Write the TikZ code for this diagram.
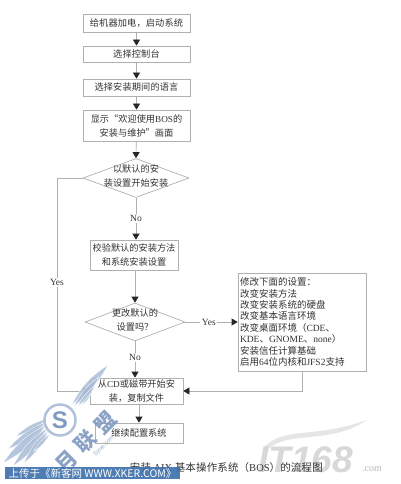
\documentclass[tikz,border=0pt]{standalone}
\usepackage{fontspec}
\setmainfont{Liberation Serif}
\newfontfamily\cjk[LetterSpace=1.5]{Noto Sans CJK SC}
\newfontfamily\cjkplain{Noto Sans CJK SC}
\newfontfamily\itf{Liberation Sans}
\usetikzlibrary{shapes.geometric,arrows.meta}
\definecolor{ink}{HTML}{333333}
\definecolor{edge}{HTML}{B0B0B0}
\definecolor{wing}{HTML}{A9BCD6}
\definecolor{wingtxt}{HTML}{7F9AC0}
\definecolor{banner}{HTML}{3F72AD}
\newcommand{\dtext}[1]{\raisebox{-2.5pt}{\makebox[0pt]{\smash{\begin{tabular}{@{}c@{}}#1\end{tabular}}}}}
\newcommand{\la}[1]{{\rmfamily #1}}
\newcommand{\petal}[2]{\filldraw[feather] #1 to[bend left=14] #2 to[bend left=14] #1 -- cycle;}
\tikzset{
 every node/.style={font=\cjkplain\fontsize{9.2}{14}\selectfont,text=ink},
 boxn/.style={draw=edge,line width=.7pt,fill=white,inner sep=0pt,align=center},
 dia/.style={draw=edge,line width=.7pt,fill=white,diamond,inner sep=0pt,aspect=2.7},
 flow/.style={draw=edge,line width=.7pt},
 arr/.style={flow,-{Triangle[length=6pt,width=7pt,color=black!85,fill=black!85]}},
 lab/.style={fill=white,inner sep=1.5pt,font=\rmfamily\fontsize{9.5}{11}\selectfont},
 feather/.style={fill=wing,draw=white,line width=.4pt,opacity=.85},
}
\begin{document}
\begin{tikzpicture}[x=1pt,y=-1pt]
\useasboundingbox (0,0) rectangle (400,484);
\fill[white] (0,0) rectangle (400,484);
% nodes
\node[boxn,minimum width=107pt,minimum height=18pt] (b1) at (136.5,23) {\cjk 给机器加电，启动系统};
\node[boxn,minimum width=107pt,minimum height=16pt] (b2) at (136.5,54) {\cjk 选择控制台};
\node[boxn,minimum width=107pt,minimum height=17pt] (b3) at (136.5,87.5) {\cjk 选择安装期间的语言};
\node[boxn,minimum width=107pt,minimum height=31pt] (b4) at (136.5,125.5) {显示“欢迎使用\la{BOS}的\\安装与维护”画面};
\node[dia,minimum width=106pt,minimum height=39pt] (d1) at (136,178) {\dtext{以默认的安\\装设置开始安装}};
\node[boxn,minimum width=88pt,minimum height=30pt] (b5) at (134,255) {校验默认的安装方法\\和系统安装设置};
\node[dia,minimum width=100pt,minimum height=38pt] (d2) at (135,322) {\dtext{更改默认的\\设置吗？}};
\node[boxn,minimum width=93pt,minimum height=26pt] (b6) at (136.5,391) {从\la{CD}或磁带开始安\\装，复制文件};
\node[boxn,minimum width=88pt,minimum height=20pt] (b7) at (139,433) {继续配置系统};
\node[boxn,minimum width=128pt,minimum height=98pt,align=left] (rb) at (302,322) {\parbox{124pt}{\fontsize{9.5}{11.4}\selectfont 修改下面的设置：\\改变安装方法\\改变安装系统的硬盘\\改变基本语言环境\\改变桌面环境（\la{CDE}、\\\la{KDE}、\la{GNOME}、\la{none}）\\安装信任计算基础\\启用\la{64}位内核和\la{JFS2}支持}};
\coordinate (lc) at (57,391);
\coordinate (rc) at (302,391);
% connectors
\draw[arr] (b1) -- (b2);
\draw[arr] (b2) -- (b3);
\draw[arr] (b3) -- (b4);
\draw[arr] (b4) -- (d1.north);
\draw[arr] (d1.south) -- node[lab,pos=.5] (no1) {No} (d1.south |- b5.north);
\draw[arr] (b5.south -| d2.north) -- (d2.north);
\draw[arr] (d2.east) -- node[lab,pos=.45] (yes2) {Yes} (d2.east -| rb.west);
\draw[arr] (d2.south) -- node[lab,pos=.45] (no2) {No} (d2.south |- b6.north);
\draw[arr] (d1.west) -| node[lab,pos=.746] (yes1) {Yes} (lc) -- (b6.west);
\draw[arr] (rb.south) -- (rc) -- (b6.east);
\draw[arr] (b6.south -| b7.north) -- (b7.north);
% IT168 watermark
\fill[black!10] (262,449) .. controls (285,425) and (310,440) .. (367,420) .. controls (330,445) and (290,430) .. (268,449) -- cycle;
\node[text=black!17,font=\itf\bfseries\itshape\fontsize{37}{37}\selectfont,anchor=west,inner sep=0pt,opacity=.9] (it) at (258,460) {IT168};
\node[text=black!28,font=\rmfamily\fontsize{10}{10}\selectfont,anchor=west,inner sep=0pt] (com) at (362,469) {.com};
% caption
\node[anchor=east,inner sep=0pt,font=\cjk\fontsize{10.5}{12}\selectfont] (cap) at (323,468) {安装 \la{AIX} 基本操作系统（\la{BOS}）的流程图};
% wing watermark
\petal{(72,404)}{(108,365)}
\petal{(74,406)}{(99,377)}
\petal{(78,406)}{(95,386)}
\petal{(82,405)}{(91,394)}
\petal{(47,419)}{(16,436)}
\petal{(46,422)}{(8,449)}
\petal{(46,425)}{(3,463)}
\petal{(47,428)}{(13,466)}
\petal{(48,431)}{(24,463)}
\petal{(50,434)}{(34,451)}
\draw[wing,line width=2.5pt,fill=white,opacity=.9] (60,420) circle (15.5pt);
\node[text=wingtxt,font=\itf\bfseries\fontsize{24}{24}\selectfont,inner sep=0pt] (wms) at (60,420) {S};
\node[text=wingtxt,rotate=45,font=\cjkplain\bfseries\fontsize{21}{21}\selectfont,opacity=.9,inner sep=0pt] (wmt) at (86,442) {月\,\,联\,\,盟};
\node[text=wingtxt,rotate=45,font=\itf\fontsize{6}{6}\selectfont,opacity=.8,inner sep=0pt] (wmu) at (104,446) {Syue.com};
% banner
\node[fill=banner,minimum width=175pt,minimum height=12pt,inner sep=0pt,text=white,font=\cjkplain\fontsize{10.5}{11}\selectfont,opacity=.92,text opacity=1] (ban) at (92.5,473) {上传于《新客网 WWW.XKER.COM》};
\end{tikzpicture}
\end{document}
